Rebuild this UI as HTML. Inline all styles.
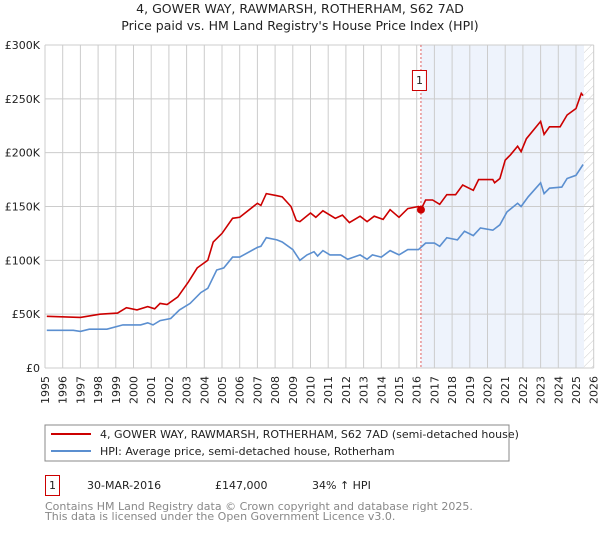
<!DOCTYPE html>
<html><head><meta charset="utf-8"><style>
body{margin:0;background:#fff;font-family:"DejaVu Sans","Liberation Sans",sans-serif;}
svg text{font-family:"DejaVu Sans","Liberation Sans",sans-serif;}
</style></head><body>
<svg id="c" width="600" height="530" xmlns="http://www.w3.org/2000/svg">
<defs><pattern id="hatch" width="6" height="6" patternUnits="userSpaceOnUse" patternTransform="rotate(45)"><line x1="0" y1="0" x2="0" y2="6" stroke="#ccc" stroke-width="1"/></pattern></defs>
<text x="300" y="13" text-anchor="middle" font-size="12.5" fill="#222">4, GOWER WAY, RAWMARSH, ROTHERHAM, S62 7AD</text>
<text x="300" y="30" text-anchor="middle" font-size="12.5" fill="#222">Price paid vs. HM Land Registry's House Price Index (HPI)</text>
<g id="bg"></g><g id="grid"></g><g id="axes"></g><g id="series"></g>
<rect x="45" y="425" width="464" height="36" fill="#fff" stroke="#888"/>
<line x1="51" y1="434" x2="91" y2="434" stroke="#cc0000" stroke-width="2"/>
<text x="100" y="438" font-size="11" fill="#222">4, GOWER WAY, RAWMARSH, ROTHERHAM, S62 7AD (semi-detached house)</text>
<line x1="51" y1="451" x2="91" y2="451" stroke="#5b8fd0" stroke-width="2"/>
<text x="100" y="455" font-size="11" fill="#222">HPI: Average price, semi-detached house, Rotherham</text>
<rect x="45.5" y="475.5" width="14" height="20" fill="#fff" stroke="#cc0000"/>
<text x="52.5" y="489" text-anchor="middle" font-size="11" fill="#222">1</text>
<text x="87" y="489" font-size="11" fill="#222">30-MAR-2016</text>
<text x="215" y="489" font-size="11" fill="#222">£147,000</text>
<text x="312" y="489" font-size="11" fill="#222">34% ↑ HPI</text>
<text x="45" y="510" font-size="11" fill="#888">Contains HM Land Registry data © Crown copyright and database right 2025.</text>
<text x="45" y="520" font-size="11" fill="#888">This data is licensed under the Open Government Licence v3.0.</text>
</svg>
<script>
const redYears=[1995.1,1997.0,1998.1,1999.1,1999.6,2000.2,2000.8,2001.2,2001.5,2001.9,2002.5,2003.1,2003.6,2004.2,2004.5,2005.0,2005.6,2006.0,2007.0,2007.2,2007.5,2008.1,2008.4,2008.9,2009.2,2009.4,2010.0,2010.3,2010.7,2011.4,2011.8,2012.2,2012.8,2013.2,2013.6,2014.1,2014.5,2015.0,2015.5,2016.1,2016.24,2016.5,2016.9,2017.3,2017.7,2018.2,2018.6,2019.2,2019.5,2020.3,2020.4,2020.7,2021.0,2021.3,2021.7,2021.9,2022.2,2023.0,2023.2,2023.5,2024.1,2024.5,2025.0,2025.3,2025.4];
const redValues=[48,47,50,51,56,54,57,55,60,59,66,80,93,100,117,125,139,140,153,151,162,160,159,150,137,136,144,140,146,139,142,135,141,136,141,138,147,140,148,150,147,156,156,152,161,161,170,165,175,175,172,176,193,198,206,201,213,229,217,224,224,235,241,255,253];
const hpiYears=[1995.1,1996.6,1997.0,1997.5,1998.5,1999.4,2000.4,2000.8,2001.1,2001.5,2002.1,2002.6,2003.2,2003.8,2004.2,2004.7,2005.1,2005.6,2006.0,2007.0,2007.2,2007.5,2008.1,2008.4,2009.0,2009.4,2009.8,2010.2,2010.4,2010.7,2011.1,2011.7,2012.1,2012.8,2013.2,2013.5,2014.0,2014.5,2015.0,2015.5,2016.1,2016.5,2017.0,2017.3,2017.7,2018.3,2018.7,2019.2,2019.6,2020.3,2020.7,2021.1,2021.7,2021.9,2022.3,2023.0,2023.2,2023.5,2024.2,2024.5,2025.0,2025.4];
const hpiValues=[35,35,34,36,36,40,40,42,40,44,46,54,60,70,74,91,93,103,103,112,113,121,119,117,110,100,105,108,104,109,105,105,101,105,101,105,103,109,105,110,110,116,116,113,121,119,127,123,130,128,133,145,153,150,159,172,162,167,168,176,179,189];
const yTicks=[0,50,100,150,200,250,300];
const yTickLabels=["£0","£50K","£100K","£150K","£200K","£250K","£300K"];
const xTicks=[1995,1996,1997,1998,1999,2000,2001,2002,2003,2004,2005,2006,2007,2008,2009,2010,2011,2012,2013,2014,2015,2016,2017,2018,2019,2020,2021,2022,2023,2024,2025,2026];
const saleYear=2016.24, saleValue=147, dataEnd=2025.45;
const NS="http://www.w3.org/2000/svg";
const X=y=>45+(y-1995)*17.7;
const Y=v=>368-v*1.0767;
function mk(parent,tag,attrs){const e=document.createElementNS(NS,tag);for(const k in attrs)e.setAttribute(k,attrs[k]);document.getElementById(parent).appendChild(e);return e;}
let e;
e=mk('bg','rect',{x:X(saleYear),y:Y(300),width:X(dataEnd)-X(saleYear),height:Y(0)-Y(300),fill:'#eef3fc'});


e=mk('bg','rect',{x:X(dataEnd),y:Y(300),width:X(2026)-X(dataEnd),height:Y(0)-Y(300),fill:'url(#hatch)'});


xTicks.forEach(t=>{
 e=mk('grid','line',{x1:X(t),x2:X(t),y1:Y(300),y2:Y(0),stroke:'#cccccc','stroke-width':1});
 
 
 e=mk('axes','text',{x:0,y:0,transform:`translate(${X(t)+4},376) rotate(-90)`,'text-anchor':'end','font-size':11,fill:'#222'});
 e.textContent=t;
 
 
});
yTicks.forEach((t,i)=>{
 e=mk('grid','line',{x1:X(1995),x2:X(2026),y1:Y(t),y2:Y(t),stroke:'#cccccc','stroke-width':1});
 
 
 e=mk('axes','text',{x:40,y:Y(t)+4,'text-anchor':'end','font-size':11,fill:'#222'});
 e.textContent=yTickLabels[i];
 
 
});
e=mk('series','line',{x1:X(saleYear),x2:X(saleYear),y1:Y(300),y2:Y(0),stroke:'#e06060','stroke-width':1,'stroke-dasharray':'2,2'});


const pts=(xs,vs)=>xs.map((x,i)=>X(x).toFixed(1)+','+Y(vs[i]).toFixed(1)).join(' ');
e=mk('series','polyline',{points:pts(hpiYears,hpiValues),fill:'none',stroke:'#5b8fd0','stroke-width':1.6});


e=mk('series','polyline',{points:pts(redYears,redValues),fill:'none',stroke:'#cc0000','stroke-width':1.6});


e=mk('series','circle',{cx:X(saleYear),cy:Y(saleValue),r:4,fill:'#cc0000'});


e=mk('series','rect',{x:X(saleYear)-8.5,y:70.5,width:14,height:20,fill:'#fff',stroke:'#cc0000'});


e=mk('series','text',{x:X(saleYear)-1.5,y:84,'text-anchor':'middle','font-size':11,fill:'#222'});
e.textContent='1';


</script>
</body></html>
